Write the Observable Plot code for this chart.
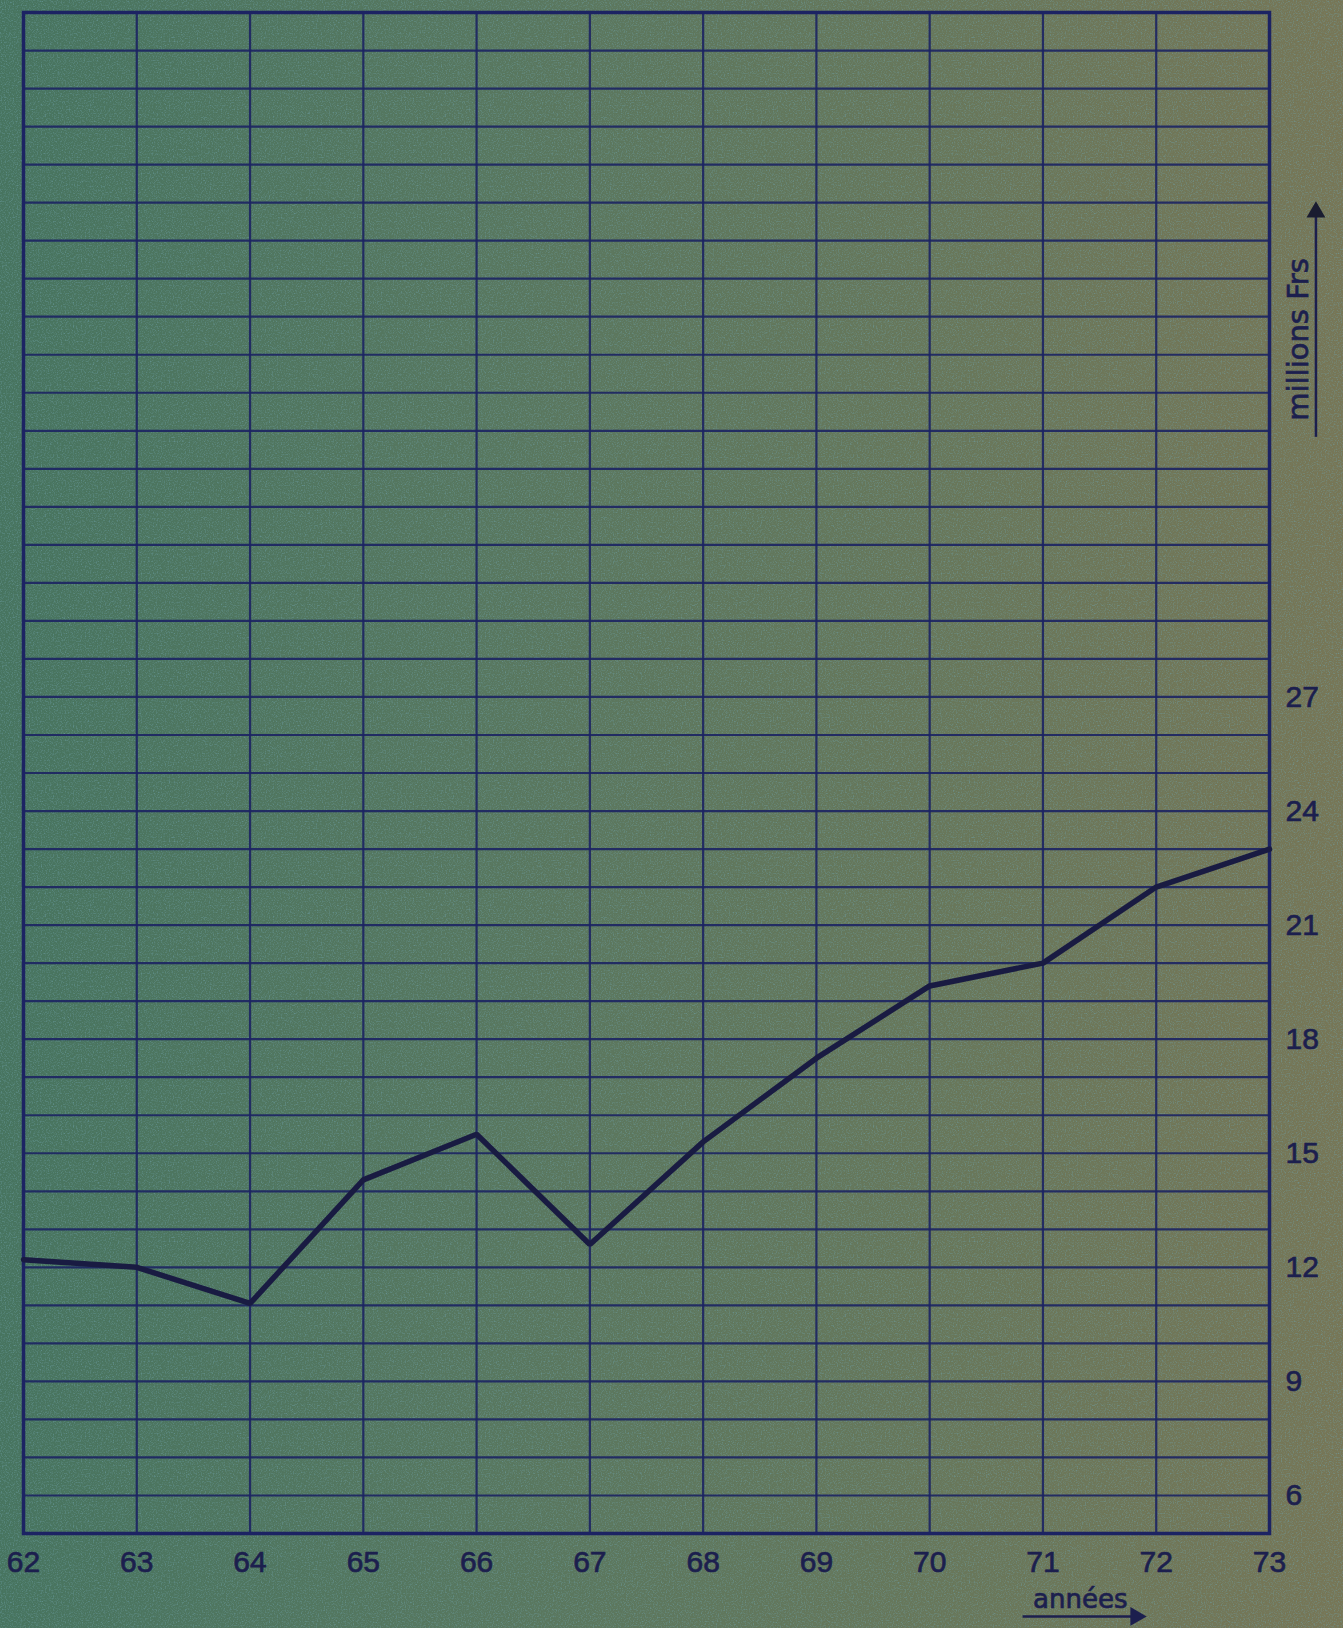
<!DOCTYPE html>
<html>
<head>
<meta charset="utf-8">
<script src="https://cdn.jsdelivr.net/npm/d3@7"></script>
<script src="https://cdn.jsdelivr.net/npm/@observablehq/plot@0.6"></script>
<style>
html, body { margin: 0; padding: 0; }
body {
  width: 1343px; height: 1628px; overflow: hidden;
  background-image:
    url("data:image/svg+xml;utf8,<svg xmlns='http://www.w3.org/2000/svg' width='400' height='400'><filter id='n'><feTurbulence type='fractalNoise' baseFrequency='0.75' numOctaves='2' stitchTiles='stitch'/><feColorMatrix values='0 0 0 0 0.16  0 0 0 0 0.36  0 0 0 0 0.40  0 0 0 1.4 -0.66'/></filter><rect width='100%' height='100%' filter='url(%23n)'/></svg>"),
    linear-gradient(to right, #47745f 0%, #57775f 35%, #68775a 70%, #777656 100%);
}
#chart svg { display: block; }
#chart svg text { stroke: #1c1f4e; stroke-width: 0.7px; }
</style>
</head>
<body>
<div id="chart"></div>
<script>
// ---- data ----
const years = [62, 63, 64, 65, 66, 67, 68, 69, 70, 71, 72, 73];
const values = [12.2, 12.0, 11.05, 14.3, 15.5, 12.6, 15.3, 17.5, 19.4, 20.0, 22.0, 23.0];
const yTickLabels = [6, 9, 12, 15, 18, 21, 24, 27];
const gridLevels = [5,6,7,8,9,10,11,12,13,14,15,16,17,18,19,20,21,22,23,24,25,26,27,28,29,30,31,32,33,34,35,36,37,38,39,40,41,42,43,44,45];
const xAxisTitle = "années";
const yAxisTitle = "millions Frs";

// annotation placement (in chart units)
const xTitlePos = {x: 71.33, y: 3.25};
const xArrow = {x1: 70.82, x2: 71.82, y: 2.82};
const yTitlePos = {x: 73.255, y: 36.4};
const yArrow = {x: 73.41, y1: 33.84, y2: 39.75};

const data = years.map((year, i) => ({year, value: values[i]}));

const ink = "#1c2363";
const inkDark = "#191b42";
const textInk = "#1c1f4e";

const chart = Plot.plot({
  width: 1343,
  height: 1628,
  marginLeft: 23,
  marginRight: 74,
  marginTop: 12,
  marginBottom: 95,
  style: {background: "transparent", fontFamily: "Liberation Sans", fontSize: "30px", color: textInk, overflow: "visible"},
  x: {domain: [62, 73]},
  y: {domain: [5, 45]},
  marks: [
    Plot.ruleY(gridLevels, {stroke: ink, strokeWidth: 2.2, strokeOpacity: 0.9}),
    Plot.ruleX(years, {stroke: ink, strokeWidth: 2.2, strokeOpacity: 0.9}),
    Plot.frame({stroke: ink, strokeWidth: 3.5}),
    Plot.line(data, {x: "year", y: "value", stroke: inkDark, strokeWidth: 5.5, strokeLinejoin: "miter"}),
    Plot.axisX({ticks: years, tickSize: 0, tickPadding: 17, tickFormat: d => String(d), label: null, fontSize: 30}),
    Plot.axisY({anchor: "right", ticks: yTickLabels, tickSize: 0, tickPadding: 16, textAnchor: "start", label: null, fontSize: 30}),
    // x axis title with arrow
    Plot.text([xAxisTitle], {x: xTitlePos.x, y: xTitlePos.y, text: d => d, fontSize: 26, fontFamily: "DejaVu Sans", fill: textInk, textAnchor: "middle"}),
    Plot.link([xArrow], {x1: "x1", x2: "x2", y1: "y", y2: "y", stroke: textInk, strokeWidth: 2.5}),
    Plot.dot([xArrow], {x: "x2", y: "y", symbol: "triangle", rotate: 90, r: 7, fill: textInk, stroke: "none"}),
    // y axis title with arrow
    Plot.text([yAxisTitle], {x: yTitlePos.x, y: yTitlePos.y, text: d => d, fontSize: 29, fontFamily: "DejaVu Sans", fill: textInk, rotate: -90, textAnchor: "middle"}),
    Plot.link([yArrow], {x1: "x", x2: "x", y1: "y1", y2: "y2", stroke: textInk, strokeWidth: 2.5}),
    Plot.dot([yArrow], {x: "x", y: "y2", symbol: "triangle", r: 7, fill: "#1a1c30", stroke: "none"})
  ]
});
document.getElementById("chart").appendChild(chart);
</script>
</body>
</html>
